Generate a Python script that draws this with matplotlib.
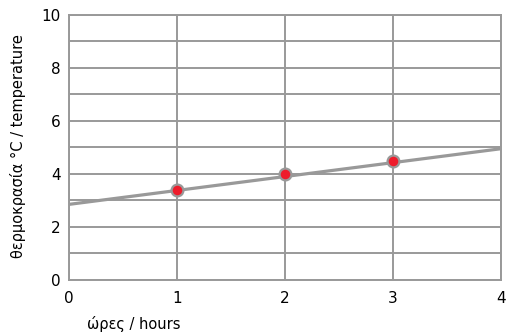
import matplotlib
matplotlib.use('Agg')
import matplotlib.pyplot as plt

# data
hours = [1, 2, 3]
temps = [3.4, 4.0, 4.5]
fit_x = [0, 4]
fit_y = [2.85, 4.95]
xticks = [0, 1, 2, 3, 4]
yticks = [0, 2, 4, 6, 8, 10]

grey = '#999999'

fig = plt.figure(figsize=(5.09, 3.32), dpi=100)
ax = fig.add_axes([0.1356, 0.157, 0.8484, 0.798])

ax.set_xlim(0, 4)
ax.set_ylim(0, 10)
ax.set_xticks(xticks)
ax.set_yticks(yticks)
ax.set_yticks(range(0, 11), minor=True)
ax.grid(True, which='both', color=grey, linewidth=1.4)
ax.set_axisbelow(True)
ax.tick_params(which='both', length=0, labelsize=11)
ax.tick_params(axis='x', pad=8)
ax.tick_params(axis='y', pad=6)
for s in ax.spines.values():
  s.set_color(grey)
  s.set_linewidth(1.4)

ax.plot(fit_x, fit_y, color=grey, linewidth=2.3, solid_capstyle='butt', zorder=3)
ax.plot(hours, temps, 'o', color='#ee1c2b', markeredgecolor=grey,
        markeredgewidth=1.6, markersize=8.5, zorder=4)

fig.text(0.262, 0.0, 'ώρες / hours', fontsize=10.5, ha='center', va='bottom')
fig.text(0.036, 0.56, 'θερμοκρασία °C / temperature', fontsize=10.5, rotation=90,
         ha='center', va='center')

fig.savefig('out.png', dpi=100)
